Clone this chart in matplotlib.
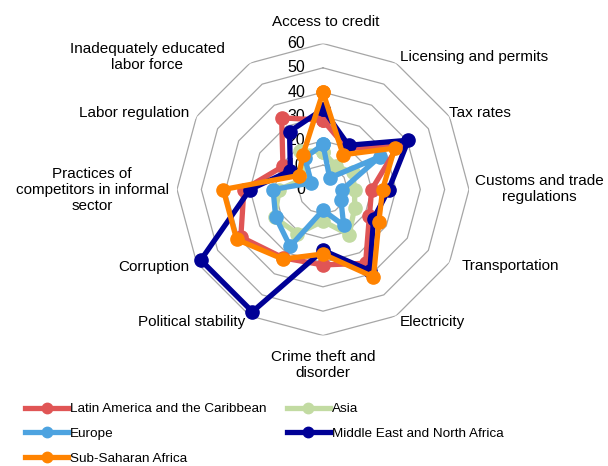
import numpy as np
import matplotlib
matplotlib.use("Agg")
import matplotlib.pyplot as plt
from matplotlib.transforms import offset_copy
from matplotlib.lines import Line2D

plt.rcParams['font.family'] = ['Liberation Sans', 'DejaVu Sans']

# ---------------- data ----------------
categories = ["Access to credit", "Licensing and permits", "Tax rates",
              "Customs and trade\nregulations", "Transportation", "Electricity",
              "Crime theft and\ndisorder", "Political stability", "Corruption",
              "Practices of\ncompetitors in informal\nsector", "Labor regulation",
              "Inadequately educated\nlabor force"]
latam  = [28.5, 19.5, 35.5, 20.0, 22.0, 35.0, 31.0, 32.5, 39.0, 32.5, 19.0, 34.0]
asia   = [15.5, 11.0, 14.0, 13.0, 15.0, 21.5, 13.0, 21.0, 23.0, 18.0,  9.0, 18.5]
europe = [18.5,  5.5, 27.0,  8.0,  8.5, 17.0,  8.5, 27.0, 22.5, 20.5,  5.5, 15.0]
mena   = [33.0, 21.0, 40.5, 27.0, 24.0, 38.5, 25.0, 58.0, 58.0, 30.0, 15.5, 27.5]
ssa    = [40.0, 16.5, 34.0, 24.5, 26.5, 41.5, 26.5, 33.0, 41.0, 41.0, 11.5, 16.5]
series_names = ["Latin America and the Caribbean", "Asia", "Europe",
                "Middle East and North Africa", "Sub-Saharan Africa"]
ring_levels = [0, 10, 20, 30, 40, 50, 60]

# ---------------- layout / style ----------------
W, H = 608, 466
fig = plt.figure(figsize=(W / 100, H / 100), dpi=100)
cx, cy, R = 323, 189.5, 146
ax = fig.add_axes([(cx - R) / W, (H - cy - R) / H, 2 * R / W, 2 * R / H], projection='polar')
ax.set_theta_zero_location('N')
ax.set_theta_direction(-1)
ax.set_ylim(0, 60)
ax.set_xticks([])
ax.set_yticks([])
ax.grid(False)
ax.spines['polar'].set_visible(False)
ax.patch.set_alpha(0)

n = len(categories)
theta = np.arange(n) * 2 * np.pi / n
theta_c = np.append(theta, theta[0])

for lvl in ring_levels[1:]:
    ax.plot(theta_c, [lvl] * (n + 1), color='#A6A6A6', lw=0.9, zorder=1)

tick_tr = offset_copy(ax.transData, fig=fig, x=-18, y=0, units='dots')
for lvl in ring_levels:
    ax.text(0, lvl, str(lvl), transform=tick_tr, ha='right', va='center',
            fontsize=11.5, color='black', zorder=2)

colors = {"Latin America and the Caribbean": '#E05555',
          "Asia": '#C2DBA2',
          "Europe": '#4DA3E0',
          "Middle East and North Africa": '#000096',
          "Sub-Saharan Africa": '#FF8300'}
values = {"Latin America and the Caribbean": latam, "Asia": asia, "Europe": europe,
          "Middle East and North Africa": mena, "Sub-Saharan Africa": ssa}
draw_order = ["Asia", "Europe", "Latin America and the Caribbean",
              "Middle East and North Africa", "Sub-Saharan Africa"]
for z, name in enumerate(draw_order):
    v = values[name]
    ax.plot(theta_c, v + v[:1], color=colors[name], lw=3.8, marker='o',
            markersize=9.5, zorder=5 + z, clip_on=False, solid_joinstyle='miter',
            label=name)

# category labels (pixel centres)
label_pos = [(326, 22), (474, 57), (480, 113), (539, 189), (510, 266), (432, 322),
             (323, 365), (192, 322), (154, 267), (92, 190), (134, 113), (147, 57)]
for lab, (px, py) in zip(categories, label_pos):
    fig.text(px / W, 1 - py / H, lab, ha='center', va='center', fontsize=11,
             multialignment='center', linespacing=1.15)

# cropped red subtitle at the very top (only the bottoms of the brackets show)
fig.text(16 / W, 1 + 2.5 / H, "(Percent of firms)", ha='left', va='baseline',
         fontsize=12, color='#E05555')

leg_order = ["Latin America and the Caribbean", "Europe", "Sub-Saharan Africa",
             "Asia", "Middle East and North Africa"]
leg_handles = [Line2D([], [], color=colors[k], lw=3.8, marker='o', markersize=7.5)
               for k in leg_order]
fig.legend(leg_handles, leg_order, loc='upper left', bbox_to_anchor=(25 / W, 1 - 403 / H),
           ncol=2, frameon=False, fontsize=9.7, handlelength=3.2, handletextpad=0.15,
           columnspacing=1.5, labelspacing=0.9, borderpad=0, borderaxespad=0)

fig.savefig("out.png", dpi=100)
